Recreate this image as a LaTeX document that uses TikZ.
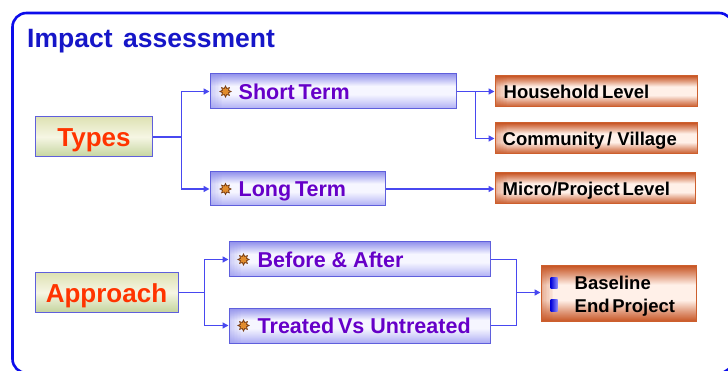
\documentclass[tikz,border=0pt]{standalone}
\usepackage{fontspec}
\setmainfont{Liberation Sans}
\usetikzlibrary{arrows.meta,shapes.geometric,calc}

\definecolor{framecol}{RGB}{12,12,235}
\definecolor{titlecol}{RGB}{22,22,200}
\definecolor{linkcol}{RGB}{72,72,240}
\definecolor{boxedge}{RGB}{95,95,220}
\definecolor{bluetop}{RGB}{148,148,236}
\definecolor{bluebot}{RGB}{172,172,244}
\definecolor{bluemid}{RGB}{246,246,255}
\definecolor{greentop}{RGB}{222,226,180}
\definecolor{greenmid}{RGB}{246,246,228}
\definecolor{greenbot}{RGB}{196,212,158}
\definecolor{orangeedge}{RGB}{205,95,45}
\definecolor{orangetop}{RGB}{200,88,40}
\definecolor{orangemid}{RGB}{255,240,232}
\definecolor{purpletext}{RGB}{102,0,200}
\definecolor{redtext}{RGB}{255,52,0}
\definecolor{iconfill}{RGB}{225,140,45}
\definecolor{iconedge}{RGB}{120,60,20}

% banded vertical fills: coloured rim at top and bottom, pale centre
\pgfdeclareverticalshading{orangeband}{100bp}{color(0bp)=(orangetop); color(25bp)=(orangetop);
  color(34bp)=(orangetop!55!orangemid); color(44bp)=(orangemid); color(58bp)=(orangemid);
  color(67bp)=(orangetop!55!orangemid); color(75bp)=(orangetop); color(100bp)=(orangetop)}
\pgfdeclareverticalshading{blueband}{100bp}{color(0bp)=(bluebot); color(25bp)=(bluebot);
  color(36bp)=(bluebot!45!bluemid); color(46bp)=(bluemid); color(58bp)=(bluemid);
  color(67bp)=(bluetop!55!bluemid); color(75bp)=(bluetop); color(100bp)=(bluetop)}

\tikzset{
  frame/.style={draw=framecol, line width=2.6pt, rounded corners=14pt},
  % soft tint along the left edge, built from thin translucent strips
  edgeglow/.style={path picture={
      \foreach \k in {0,...,7}{
        \fill[#1, fill opacity={0.42-0.05*\k}]
          ([xshift={1.5*\k}]path picture bounding box.south west)
          rectangle ([xshift={1.5*\k+1.5}]path picture bounding box.north west);
      }}},
  greenbox/.style={draw=boxedge, line width=1pt, top color=greentop, bottom color=greenbot,
    middle color=greenmid, inner sep=0pt},
  bluebox/.style={draw=boxedge, line width=1pt, shading=blueband, inner sep=0pt, edgeglow=bluetop},
  orangebox/.style={draw=orangeedge, line width=1pt, shading=orangeband, inner sep=0pt, edgeglow=orangetop},
  headtext/.style={font=\bfseries\fontsize{26}{26}\selectfont, text=redtext, inner sep=0pt},
  itemtext/.style={font=\bfseries\fontsize{21.5}{22}\selectfont, text=purpletext, inner sep=0pt, anchor=base west},
  leveltext/.style={font=\bfseries\fontsize{18.5}{19}\selectfont, text=black, inner sep=0pt, anchor=base west},
  bugicon/.style={star, star points=8, star point ratio=1.7, minimum size=11pt, inner sep=0pt,
    fill=iconfill, draw=iconedge, line width=0.7pt},
  bulletmark/.style={rectangle, minimum width=7pt, minimum height=11pt, inner sep=0pt,
    left color=blue!85!black, right color=blue!45!white},
  link/.style={draw=linkcol, line width=1.8pt},
  arrowlink/.style={link, -{Triangle[length=6pt,width=6pt]}},
}

\begin{document}
\begin{tikzpicture}[x=1pt,y=-1pt]
\useasboundingbox (0,0) rectangle (728,371);
\clip (0,0) rectangle (728,371);
\fill[white] (0,0) rectangle (728,371);

% outer frame
\draw[frame] (12.5,13) rectangle (733,373);

% title
\node[font=\bfseries\fontsize{26.5}{27}\selectfont, text=titlecol, anchor=base west, inner sep=0pt]
  (title) at (27,48) {Impact\hspace{0.4em}assessment};

% left-hand category boxes
\node[greenbox, minimum width=117pt, minimum height=40pt] (types) at (93.5,137) {};
\node[headtext, anchor=base] (typestext) at (94,147) {Types};
\node[greenbox, minimum width=143pt, minimum height=39pt] (approach) at (106.5,292.5) {};
\node[headtext, anchor=base] (approachtext) at (106.5,302) {Approach};

% blue item boxes
\node[bluebox, minimum width=246pt, minimum height=35pt] (short) at (333,91.5) {};
\node[bugicon] (shorticon) at ([xshift=16pt]short.west) {};
\node[itemtext] (shorttext) at ($(short.west)+(29,7.7)$) {Short\hspace{0.18em}Term};

\node[bluebox, minimum width=175pt, minimum height=34pt] (long) at (297.5,189) {};
\node[bugicon] (longicon) at ([xshift=16pt]long.west) {};
\node[itemtext] (longtext) at ($(long.west)+(29,7.7)$) {Long\hspace{0.18em}Term};

\node[bluebox, minimum width=261pt, minimum height=35pt] (before) at (359.5,259.5) {};
\node[bugicon] (beforeicon) at ([xshift=15pt]before.west) {};
\node[itemtext] (beforetext) at ($(before.west)+(29,7.7)$) {Before \& After};

\node[bluebox, minimum width=261pt, minimum height=35pt] (treated) at (359.5,325.5) {};
\node[bugicon] (treatedicon) at ([xshift=15pt]treated.west) {};
\node[itemtext] (treatedtext) at ($(treated.west)+(29,7.7)$) {Treated\hspace{0.18em}Vs Untreated};

% orange level boxes
\node[orangebox, minimum width=202pt, minimum height=31pt] (house) at (596,91.5) {};
\node[leveltext] (housetext) at ($(house.west)+(9,6.6)$) {Household\hspace{0.15em}Level};
\node[orangebox, minimum width=202pt, minimum height=31pt] (comm) at (596,138.5) {};
\node[leveltext] (commtext) at ($(comm.west)+(8,6.6)$) {Community\hspace{0.15em}/ Village};
\node[orangebox, minimum width=200pt, minimum height=31pt] (micro) at (595,188.5) {};
\node[leveltext] (microtext) at ($(micro.west)+(8,6.6)$) {Micro/Project\hspace{0.15em}Level};

\node[orangebox, minimum width=155pt, minimum height=55pt] (base) at (618.5,293.5) {};
\node[bulletmark] (basemark) at ($(base.west)+(13.5,-10.5)$) {};
\node[leveltext] (basetext) at ($(base.west)+(34,-3.8)$) {Baseline};
\node[bulletmark] (endmark) at ($(base.west)+(13.5,12)$) {};
\node[leveltext] (endtext) at ($(base.west)+(34,19)$) {End\hspace{0.15em}Project};

% connectors
\coordinate (typesfork) at ($(types.east)+(29,0)$);
\draw[link] (types.east) -- (typesfork);
\draw[arrowlink] (typesfork) |- (short.west);
\draw[arrowlink] (typesfork) |- (long.west);

\coordinate (shortfork) at ($(short.east)+(19,0)$);
\draw[link] (short.east) -- (shortfork);
\draw[arrowlink] (shortfork) |- (house.west);
\draw[arrowlink] (shortfork) |- (comm.west);

\draw[arrowlink] (long.east) -- (micro.west |- long.east);

\coordinate (approachfork) at ($(approach.east)+(26,0)$);
\draw[link] (approach.east) -- (approachfork);
\draw[arrowlink] (approachfork) |- (before.west);
\draw[arrowlink] (approachfork) |- (treated.west);

\coordinate (merge) at ($(before.east)!0.5!(treated.east)+(26,0)$);
\draw[link] (before.east) -| (merge);
\draw[link] (treated.east) -| (merge);
\draw[arrowlink] (merge) -- (base.west |- merge);
\end{tikzpicture}
\end{document}
